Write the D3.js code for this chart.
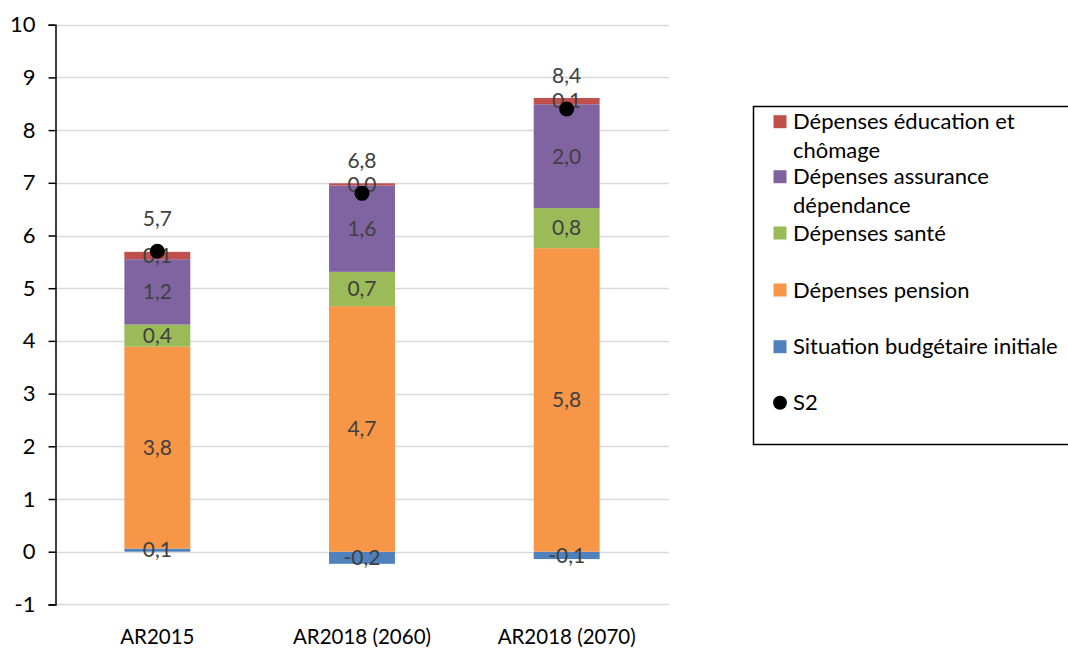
<!DOCTYPE html>
<html>
<head>
<meta charset="utf-8">
<script src="https://cdn.jsdelivr.net/npm/d3@7"></script>
<style>
  html, body { margin: 0; padding: 0; background: #fff; }
  svg { display: block; font-family: Lato, "Open Sans", sans-serif; }
</style>
</head>
<body>
<svg id="chart" width="1068" height="648"></svg>
<script>
// Scénarios
const categories = ["AR2015", "AR2018 (2060)", "AR2018 (2070)"];

// Composantes de l'indicateur S2 (en points de PIB)
const situationInitiale = [0.06, -0.23, -0.14];
const depensesPension   = [3.83, 4.66, 5.76];
const depensesSante     = [0.42, 0.65, 0.76];
const depensesDependance = [1.24, 1.64, 1.97];
const depensesEducation = [0.14, 0.04, 0.12];
const s2 = [5.7, 6.8, 8.4];

const yTicks = [-1, 0, 1, 2, 3, 4, 5, 6, 7, 8, 9, 10];

const seriesNames = [
  "Situation budgétaire initiale",
  "Dépenses pension",
  "Dépenses santé",
  "Dépenses assurance dépendance",
  "Dépenses éducation et chômage"
];
const seriesValues = [situationInitiale, depensesPension, depensesSante, depensesDependance, depensesEducation];
const colors = ["#4f81bd", "#f79646", "#9bbb59", "#8064a2", "#c0504d"];

const fr = d3.formatLocale({ decimal: ",", thousands: " ", grouping: [3], currency: ["", " €"], minus: "-" });
const fmt = fr.format(".1f");

const svg = d3.select("#chart");

const x = d3.scaleBand().domain(categories).range([55, 669]).paddingInner(0.678).paddingOuter(0.339);
const y = d3.scaleLinear().domain([-1, 10]).range([604.4, 24.7]);

// Quadrillage horizontal
svg.append("g").selectAll("line").data(yTicks).join("line")
  .attr("x1", 55).attr("x2", 669)
  .attr("y1", d => Math.round(y(d)) + 0.5).attr("y2", d => Math.round(y(d)) + 0.5)
  .attr("stroke", "#d9d9d9").attr("stroke-width", 1.5);

// Empilement : valeurs positives au-dessus de zéro, négatives en dessous
const segments = [];
categories.forEach((cat, i) => {
  let pos = 0, neg = 0;
  seriesValues.forEach((vals, s) => {
    const v = vals[i];
    let y0, y1;
    if (v >= 0) { y0 = pos; y1 = pos + v; pos = y1; }
    else { y0 = neg; y1 = neg + v; neg = y1; }
    segments.push({ cat, s, v, y0, y1 });
  });
});

svg.append("g").selectAll("rect").data(segments).join("rect")
  .attr("x", d => x(d.cat))
  .attr("width", x.bandwidth())
  .attr("y", d => y(Math.max(d.y0, d.y1)))
  .attr("height", d => Math.abs(y(d.y0) - y(d.y1)))
  .attr("fill", d => colors[d.s]);

// Étiquettes des segments
svg.append("g").selectAll("text").data(segments).join("text")
  .attr("x", d => x(d.cat) + x.bandwidth() / 2)
  .attr("y", d => y((d.y0 + d.y1) / 2))
  .attr("dy", "0.35em")
  .attr("text-anchor", "middle")
  .attr("font-size", 21)
  .attr("fill", "#404040")
  .text(d => fmt(d.v));

// Points S2
svg.append("g").selectAll("circle").data(s2).join("circle")
  .attr("cx", (d, i) => x(categories[i]) + x.bandwidth() / 2)
  .attr("cy", d => y(d))
  .attr("r", 7.5)
  .attr("fill", "#000");

svg.append("g").selectAll("text").data(s2).join("text")
  .attr("x", (d, i) => x(categories[i]) + x.bandwidth() / 2)
  .attr("y", d => y(d) - 33)
  .attr("dy", "0.35em")
  .attr("text-anchor", "middle")
  .attr("font-size", 21)
  .attr("fill", "#404040")
  .text(d => fmt(d));

// Axe vertical
const yAxis = d3.axisLeft(y).tickValues(yTicks).tickSize(7).tickPadding(13).tickFormat(fr.format("d"));
const gy = svg.append("g").attr("transform", "translate(55.5,0)").call(yAxis);
gy.select(".domain").attr("stroke", "#000").attr("stroke-width", 1.5);
gy.selectAll(".tick line").attr("stroke", "#000").attr("stroke-width", 1.5);
gy.selectAll(".tick text").attr("font-size", 22).attr("fill", "#000").attr("font-family", "Lato, 'Open Sans', sans-serif");

// Libellés des catégories
svg.append("g").selectAll("text").data(categories).join("text")
  .attr("x", d => x(d) + x.bandwidth() / 2)
  .attr("y", 637)
  .attr("dy", "0.35em")
  .attr("text-anchor", "middle")
  .attr("font-size", 20.5)
  .attr("fill", "#000")
  .text(d => d);

// Légende
const legend = svg.append("g");
legend.append("rect")
  .attr("x", 753.5).attr("y", 106.5).attr("width", 330).attr("height", 338)
  .attr("fill", "#fff").attr("stroke", "#000").attr("stroke-width", 1.5);

const legendItems = [
  { lines: ["Dépenses éducation et", "chômage"], color: colors[4], y: 121.7 },
  { lines: ["Dépenses assurance", "dépendance"], color: colors[3], y: 176.7 },
  { lines: ["Dépenses santé"], color: colors[2], y: 233 },
  { lines: ["Dépenses pension"], color: colors[1], y: 290 },
  { lines: ["Situation budgétaire initiale"], color: colors[0], y: 346.7 },
  { lines: ["S2"], color: null, y: 402.7 }
];

legendItems.forEach(item => {
  if (item.color) {
    legend.append("rect")
      .attr("x", 773.5).attr("y", item.y - 6.5).attr("width", 13).attr("height", 13)
      .attr("fill", item.color);
  } else {
    legend.append("circle")
      .attr("cx", 780).attr("cy", item.y).attr("r", 7).attr("fill", "#000");
  }
  item.lines.forEach((ln, k) => {
    legend.append("text")
      .attr("x", 793).attr("y", item.y + k * 28.3)
      .attr("dy", "0.35em")
      .attr("font-size", 22)
      .attr("fill", "#000")
      .text(ln);
  });
});
</script>
</body>
</html>
